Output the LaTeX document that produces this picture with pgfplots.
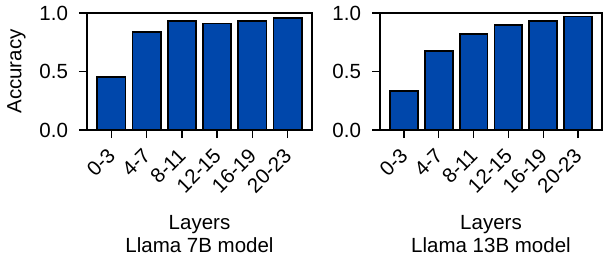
\documentclass[border=0pt]{standalone}
\usepackage{pgfplots}
\pgfplotsset{compat=1.18}
\usepackage{fontspec}
\setmainfont{Liberation Sans}
\definecolor{barblue}{HTML}{0047AB}
\begin{document}
\fontsize{20.5}{23}\selectfont
\begin{tikzpicture}
\pgfplotsset{
  myaxis/.style={
    scale only axis, height=117pt,
    anchor=south west,
    ymin=0, ymax=1, ytick={0,0.5,1},
    /pgf/number format/assume math mode=true,
    yticklabel style={/pgf/number format/fixed,/pgf/number format/fixed zerofill,/pgf/number format/precision=1, xshift=-4pt},
    xmin=-0.69, xmax=5.69, xtick={0,...,5},
    xticklabels={0-3,4-7,8-11,12-15,16-19,20-23},
    xticklabel style={xshift=5pt, yshift=-9pt, rotate=45, anchor=east},
    tick align=outside, major tick length=8pt,
    xtick pos=left, ytick pos=left,
    tick style={black, line width=1.3pt},
    axis line style={line width=1.3pt},
    ybar, bar width=0.8,
    xlabel style={align=center, yshift=-5pt},
    every tick label/.append style={font=\fontsize{20.5}{23}\selectfont},
    every axis label/.append style={font=\fontsize{20.5}{23}\selectfont},
  },
  mybar/.style={fill=barblue, draw=black, line width=1.8pt},
}
\begin{axis}[myaxis, width=225pt, at={(87pt,127pt)},
  ylabel={Accuracy}, xlabel={Layers\\Llama 7B model}]
\addplot[mybar] coordinates {(0,0.45) (1,0.835) (2,0.93) (3,0.91) (4,0.93) (5,0.96)};
\end{axis}
\begin{axis}[myaxis, width=222pt, at={(380pt,127pt)},
  xlabel={Layers\\Llama 13B model}]
\addplot[mybar] coordinates {(0,0.333) (1,0.678) (2,0.823) (3,0.897) (4,0.93) (5,0.97)};
\end{axis}
\pgfresetboundingbox
\path[use as bounding box] (0pt,0pt) rectangle (603pt,257pt);
\end{tikzpicture}
\end{document}
